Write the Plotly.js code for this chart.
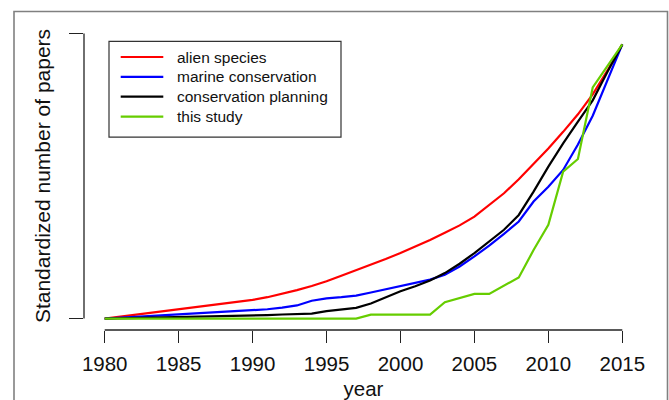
<!DOCTYPE html>
<html>
<head>
<meta charset="utf-8">
<script src="https://cdn.plot.ly/plotly-3.0.1.min.js"></script>
<style>html,body{margin:0;padding:0;background:#fff;}#chart{width:669px;height:400px;}</style>
</head>
<body>
<div id="chart"></div>
<script>
// ---- data ----
const years = [1980,1981,1982,1983,1984,1985,1986,1987,1988,1989,1990,1991,1992,1993,1994,1995,1996,1997,1998,1999,2000,2001,2002,2003,2004,2005,2006,2007,2008,2009,2010,2011,2012,2013,2014,2015];
const alienSpecies = [0,0.007,0.014,0.021,0.028,0.035,0.041,0.047,0.054,0.061,0.068,0.078,0.09,0.104,0.119,0.136,0.156,0.176,0.196,0.217,0.239,0.262,0.287,0.313,0.34,0.372,0.413,0.457,0.508,0.563,0.62,0.681,0.745,0.818,0.905,1.0];
const marineConservation = [0,0.003,0.006,0.009,0.012,0.015,0.018,0.021,0.024,0.026,0.029,0.034,0.04,0.048,0.065,0.074,0.078,0.084,0.095,0.107,0.12,0.131,0.142,0.16,0.19,0.227,0.266,0.309,0.354,0.427,0.481,0.542,0.635,0.74,0.868,1.0];
const conservationPlanning = [0,0.001,0.002,0.003,0.004,0.006,0.007,0.008,0.009,0.01,0.011,0.013,0.015,0.017,0.018,0.027,0.033,0.039,0.055,0.078,0.1,0.118,0.139,0.166,0.2,0.239,0.281,0.324,0.378,0.463,0.554,0.639,0.718,0.796,0.9,1.0];
const thisStudy = [0,0,0,0,0,0,0,0,0,0,0,0,0,0,0,0,0,0,0.0145,0.0145,0.0145,0.0145,0.0145,0.06,0.075,0.09,0.09,0.12,0.15,0.25,0.342,0.536,0.582,0.843,0.922,1.0];
const seriesNames = ["alien species","marine conservation","conservation planning","this study"];
const seriesColors = ["#ff0000","#0000ff","#000000","#66cd00"];
const xTickVals = [1980,1985,1990,1995,2000,2005,2010,2015];
const yTickVals = [0,1.04];
const xTitle = "year";
const yTitle = "Standardized number of papers";

// ---- layout geometry ----
const W = 669, H = 400;
const M = {l:84, r:26, t:21.6, b:69.6};
const pw = W - M.l - M.r, ph = H - M.t - M.b;
const xMin = xTickVals[0], xMax = xTickVals[xTickVals.length-1];
const xPad = (xMax - xMin) * 0.04;
const xRange = [xMin - xPad, xMax + xPad];
const yPad = (yTickVals[1] - yTickVals[0]) * 0.04;
const yRange = [yTickVals[0] - yPad, yTickVals[1] + yPad];
const px2x = p => (p - M.l) / pw;
const py2y = p => (H - M.b - p) / ph;
const dx2paper = v => (v - xRange[0]) / (xRange[1] - xRange[0]);
const dy2paper = v => (v - yRange[0]) / (yRange[1] - yRange[0]);

const seriesData = [alienSpecies, marineConservation, conservationPlanning, thisStudy];
const traces = seriesData.map((vals, i) => ({
  x: years, y: vals, type: 'scatter', mode: 'lines', name: seriesNames[i],
  line: {color: seriesColors[i], width: 2.2}, showlegend: false, hoverinfo: 'skip'
}));

const font = 'Liberation Sans, Arial, Helvetica, sans-serif';
const shapes = [];
const annotations = [];
// outer frame
shapes.push({type:'rect', xref:'paper', yref:'paper', x0:px2x(14), x1:px2x(667.5), y0:py2y(11), y1:py2y(420), line:{color:'#808080', width:1.6}});
// R-style axis lines spanning only the ticks
shapes.push({type:'line', xref:'paper', yref:'paper', x0:dx2paper(xMin), x1:dx2paper(xMax), y0:0, y1:0, line:{color:'#222', width:1.3}});
shapes.push({type:'line', xref:'paper', yref:'paper', x0:0, x1:0, y0:dy2paper(yTickVals[0]), y1:dy2paper(yTickVals[1]), line:{color:'#222', width:1.3}});
// legend box
shapes.push({type:'rect', xref:'paper', yref:'paper', x0:px2x(109), x1:px2x(341), y0:py2y(41), y1:py2y(137), line:{color:'#333', width:1.2}, fillcolor:'rgba(255,255,255,1)'});
seriesNames.forEach((nm, i) => {
  const yy = 56.7 + i * 19.9;
  shapes.push({type:'line', xref:'paper', yref:'paper', x0:px2x(120.7), x1:px2x(163.3), y0:py2y(yy), y1:py2y(yy), line:{color:seriesColors[i], width:2.2}});
  annotations.push({xref:'paper', yref:'paper', x:px2x(175), y:py2y(yy), text:nm, showarrow:false, xanchor:'left', yanchor:'middle', font:{family:font, size:15.5, color:'#111'}});
});

const layout = {
  width: W, height: H,
  margin: M,
  paper_bgcolor: '#fff', plot_bgcolor: '#fff',
  showlegend: false,
  font: {family: font, color: '#111'},
  xaxis: {
    range: xRange, tickvals: xTickVals, ticktext: xTickVals.map(String),
    ticks: 'outside', ticklen: 12, tickwidth: 1.3, tickcolor: '#222',
    ticklabelstandoff: 3,
    showline: false, showgrid: false, zeroline: false,
    tickfont: {family: font, size: 20.5, color: '#111'},
    title: {text: xTitle, font: {family: font, size: 20.5, color: '#111'}, standoff: 9},
    automargin: false
  },
  yaxis: {
    range: yRange, tickvals: yTickVals, showticklabels: false,
    ticks: 'outside', ticklen: 14, tickwidth: 1.3, tickcolor: '#222',
    showline: false, showgrid: false, zeroline: false,
    title: {text: yTitle, font: {family: font, size: 21, color: '#111'}, standoff: 12},
    automargin: false
  },
  shapes: shapes,
  annotations: annotations
};

Plotly.newPlot('chart', traces, layout, {displayModeBar: false, staticPlot: true});
</script>
</body>
</html>
